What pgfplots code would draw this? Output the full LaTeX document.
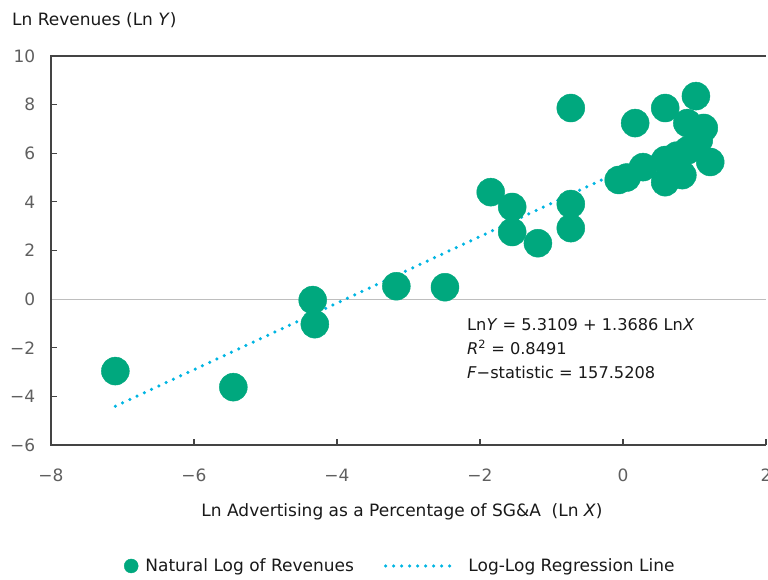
\documentclass[border=0pt]{standalone}
\usepackage{pgfplots}
\pgfplotsset{compat=1.18}
\usepackage{fontspec}
\setmainfont{DejaVu Sans}
\definecolor{mygreen}{RGB}{0,168,126}
\definecolor{myblue}{RGB}{0,181,226}
\definecolor{axisgray}{RGB}{68,68,68}
\definecolor{ticklab}{RGB}{95,95,95}
\definecolor{zerogray}{RGB}{190,190,190}
\begin{document}
\begin{tikzpicture}[x=1pt,y=1pt]
\useasboundingbox (0,0) rectangle (768,580);
\fontsize{17}{20}\selectfont
\begin{axis}[
  at={(51pt,135pt)}, anchor=south west,
  scale only axis, width=715pt, height=389pt,
  xmin=-8, xmax=2, ymin=-6, ymax=10,
  xtick={-8,-6,-4,-2,0,2},
  xticklabels={−8,−6,−4,−2,0,2},
  ytick={-6,-4,-2,0,2,4,6,8,10},
  yticklabels={−6,−4,−2,0,2,4,6,8,10},
  axis line style={draw=none},
  tick align=inside, xtick pos=bottom, ytick pos=left,
  major tick length=6pt,
  tick style={axisgray, line width=1.2pt},
  ticklabel style={font=\fontsize{17}{20}\selectfont, text=ticklab},
  yticklabel style={xshift=-10pt},
  xticklabel style={yshift=-18pt},
  extra y ticks={0}, extra y tick labels={},
  extra y tick style={grid=major, major grid style={zerogray, line width=1.2pt}, tick style={draw=none}},
  clip=false,
  legend columns=2,
  legend style={draw=none, fill=none, at={(0.4885,-0.311)}, anchor=center,
    font=\fontsize{17}{20}\selectfont, text=black!90,
    /tikz/every even column/.append style={column sep=28pt}},
]
\addplot[only marks, mark=*, mark size=14pt, color=mygreen, mark options={draw=none, fill=mygreen},
  legend image code/.code={\fill[mygreen] (0pt,0pt) circle (7pt); \path (12pt,0pt);}]
coordinates {
(-7.10,-2.96) (-5.45,-3.62) (-4.34,-0.04) (-4.31,-1.03) (-3.17,0.53) (-2.49,0.49)
(-1.85,4.40) (-1.55,3.79) (-1.55,2.76) (-1.19,2.30) (-0.73,7.86) (-0.73,3.91) (-0.73,2.92)
(-0.06,4.90) (0.05,5.00) (0.17,7.24) (0.28,5.43) (0.59,7.86) (0.59,5.72) (0.59,4.81)
(0.83,5.10) (0.90,7.24) (0.91,6.13) (1.02,8.35) (1.06,6.54) (1.13,7.04) (1.22,5.64)
(0.75,5.9)
};
\addlegendentry{Natural Log of Revenues}
\addplot[myblue, line width=3.5pt, line cap=round, dash pattern=on 0pt off 8pt,
  legend image code/.code={\draw[myblue, line width=3.5pt, line cap=round, dash pattern=on 0pt off 8pt] (0pt,0pt) -- (70pt,0pt); \path (79pt,0pt);}]
coordinates {(-7.10,-4.4062) (1.26,7.0353)};
\addlegendentry{Log-Log Regression Line}
\draw[axisgray, line width=1.5pt] (rel axis cs:1,0) -- (rel axis cs:0,0) -- (rel axis cs:0,1) -- (rel axis cs:1,1);
\end{axis}
\node[anchor=base west, inner sep=0pt, text=black!90] at (12,554) {Ln Revenues (Ln \textit{Y})};
\node[anchor=base, inner sep=0pt, text=black!90] at (402,63) {Ln Advertising as a Percentage of SG\&A\ \ (Ln \textit{X})};
\begin{scope}[font=\fontsize{16.2}{19}\selectfont]
\node[anchor=base west, inner sep=0pt, text=black!90] at (467,249) {Ln\textit{Y} = 5.3109 + 1.3686 Ln\textit{X}};
\node[anchor=base west, inner sep=0pt, text=black!90] at (467,225) {\textit{R}\textsuperscript{2} = 0.8491};
\node[anchor=base west, inner sep=0pt, text=black!90] at (467,201) {\textit{F}−statistic = 157.5208};
\end{scope}
\end{tikzpicture}
\end{document}
